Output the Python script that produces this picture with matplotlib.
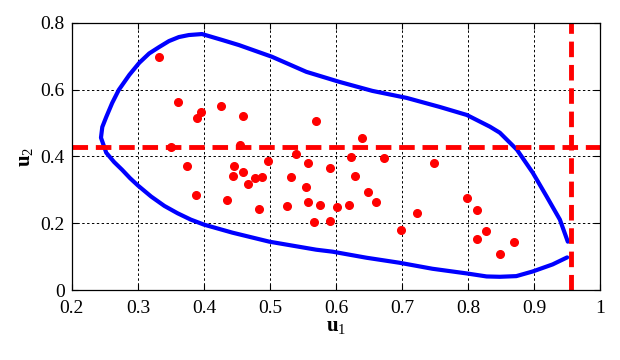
import matplotlib
matplotlib.use("Agg")
import matplotlib.pyplot as plt

plt.rcParams['font.family'] = ['Liberation Serif', 'DejaVu Serif']
plt.rcParams['mathtext.fontset'] = 'custom'
plt.rcParams['mathtext.rm'] = 'Liberation Serif'
plt.rcParams['mathtext.bf'] = 'Liberation Serif:bold'

# sample points
u1_pts = [0.332, 0.361, 0.396, 0.390, 0.426, 0.459, 0.350, 0.455, 0.569, 0.540,
          0.375, 0.446, 0.497, 0.558, 0.591, 0.639, 0.623, 0.672, 0.749, 0.444,
          0.459, 0.478, 0.488, 0.467, 0.388, 0.435, 0.484, 0.532, 0.554, 0.526,
          0.558, 0.576, 0.567, 0.591, 0.602, 0.628, 0.649, 0.661, 0.620, 0.723,
          0.698, 0.798, 0.813, 0.827, 0.813, 0.869, 0.848]
u2_pts = [0.698, 0.563, 0.533, 0.516, 0.551, 0.522, 0.429, 0.435, 0.506, 0.408,
          0.372, 0.372, 0.387, 0.381, 0.366, 0.456, 0.399, 0.396, 0.381, 0.342,
          0.354, 0.336, 0.339, 0.318, 0.286, 0.271, 0.244, 0.339, 0.310, 0.253,
          0.265, 0.256, 0.205, 0.208, 0.250, 0.342, 0.295, 0.265, 0.256, 0.231,
          0.181, 0.277, 0.241, 0.178, 0.154, 0.145, 0.107]

# contour (blue curve)
curve_u1 = [0.951, 0.939, 0.919, 0.898, 0.874, 0.848, 0.833, 0.798, 0.757, 0.707,
            0.655, 0.605, 0.555, 0.503, 0.453, 0.428, 0.397, 0.377, 0.362, 0.347,
            0.332, 0.317, 0.302, 0.287, 0.271, 0.261, 0.252, 0.246, 0.244, 0.252,
            0.264, 0.276, 0.288, 0.300, 0.320, 0.340, 0.360, 0.380, 0.400,
            0.443, 0.499, 0.570, 0.595, 0.646, 0.696, 0.746, 0.798, 0.828, 0.848,
            0.873, 0.898, 0.928, 0.950]
curve_u2 = [0.145, 0.211, 0.280, 0.351, 0.420, 0.471, 0.489, 0.524, 0.548, 0.575,
            0.596, 0.623, 0.653, 0.698, 0.733, 0.748, 0.766, 0.763, 0.757, 0.745,
            0.727, 0.708, 0.680, 0.644, 0.599, 0.560, 0.518, 0.488, 0.456, 0.411,
            0.383, 0.360, 0.335, 0.313, 0.280, 0.252, 0.230, 0.211, 0.196,
            0.172, 0.145, 0.121, 0.115, 0.097, 0.082, 0.064, 0.050, 0.041, 0.040,
            0.042, 0.056, 0.077, 0.098]

u1_line = 0.956
u2_line = 0.427

fig = plt.figure(figsize=(6.2, 3.6), dpi=100)
ax = fig.add_axes([0.116, 0.194, 0.852, 0.743])

ax.plot(curve_u1, curve_u2, color='#0000ff', lw=3.0, solid_capstyle='round',
        solid_joinstyle='round')
ax.plot(u1_pts, u2_pts, 'o', color='#ff0000', ms=5.5, mec='#ff0000')
ax.axhline(u2_line, color='#ff0000', lw=3.5, dashes=(3.2, 1.6))
ax.axvline(u1_line, color='#ff0000', lw=3.5, dashes=(3.2, 1.6))

ax.set_xlim(0.2, 1.0)
ax.set_ylim(0, 0.8)
ax.set_xticks([0.2, 0.3, 0.4, 0.5, 0.6, 0.7, 0.8, 0.9, 1.0])
ax.set_xticklabels(['0.2', '0.3', '0.4', '0.5', '0.6', '0.7', '0.8', '0.9', '1'])
ax.set_yticks([0, 0.2, 0.4, 0.6, 0.8])
ax.set_yticklabels(['0', '0.2', '0.4', '0.6', '0.8'])
ax.grid(True, color='black', linestyle=(0, (2.5, 2.5)), lw=0.7)
ax.tick_params(direction='in', labelsize=14, length=4, width=0.8, top=True, right=True)
ax.tick_params(axis='x', pad=7)
ax.tick_params(axis='y', pad=5)
for s in ax.spines.values():
    s.set_linewidth(0.9)

ax.set_xlabel(r'$\mathbf{u}_1$', fontsize=15, labelpad=1)
ax.set_ylabel(r'$\mathbf{u}_2$', fontsize=15, labelpad=3)

fig.savefig('out.png', dpi=100)
